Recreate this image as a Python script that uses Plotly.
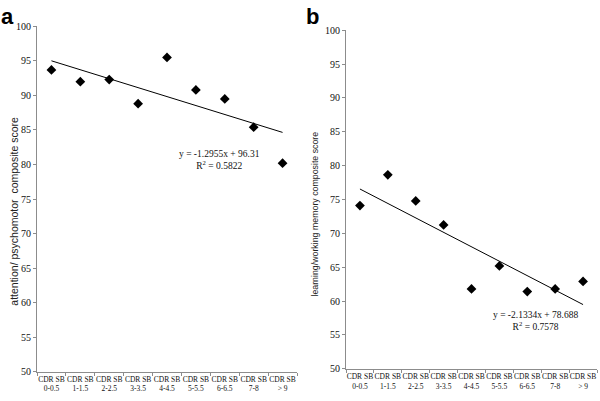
import plotly.graph_objects as go

categories = ["CDR SB<br>0-0.5", "CDR SB<br>1-1.5", "CDR SB<br>2-2.5", "CDR SB<br>3-3.5",
              "CDR SB<br>4-4.5", "CDR SB<br>5-5.5", "CDR SB<br>6-6.5", "CDR SB<br>7-8", "CDR SB<br>> 9"]
attention_scores = [93.7, 92.0, 92.3, 88.8, 95.5, 90.8, 89.5, 85.4, 80.2]
memory_scores = [74.1, 78.65, 74.8, 71.25, 61.8, 65.2, 61.4, 61.8, 62.9]

# trendline equations shown on the chart
a_slope, a_intercept, a_r2 = -1.2955, 96.31, "0.5822"
b_slope, b_intercept, b_r2 = -2.1334, 78.688, "0.7578"
a_eq = "y = -1.2955x + 96.31"
b_eq = "y = -2.1334x + 78.688"

yticks = [50, 55, 60, 65, 70, 75, 80, 85, 90, 95, 100]

n = len(categories)
a_trend = [a_slope * 1 + a_intercept, a_slope * n + a_intercept]
b_trend = [b_slope * 1 + b_intercept, b_slope * n + b_intercept]

fig = go.Figure()
marker = dict(symbol="diamond", size=7.5, color="black")

fig.add_trace(go.Scatter(x=[categories[0], categories[-1]], y=a_trend, mode="lines",
                         line=dict(color="black", width=1), xaxis="x", yaxis="y", showlegend=False))
fig.add_trace(go.Scatter(x=categories, y=attention_scores, mode="markers", marker=marker,
                         xaxis="x", yaxis="y", showlegend=False))
fig.add_trace(go.Scatter(x=[categories[0], categories[-1]], y=b_trend, mode="lines",
                         line=dict(color="black", width=1), xaxis="x2", yaxis="y2", showlegend=False))
fig.add_trace(go.Scatter(x=categories, y=memory_scores, mode="markers", marker=marker,
                         xaxis="x2", yaxis="y2", showlegend=False))

xtickfont = dict(family="Liberation Serif", size=7.5, color="#111111")
ytickfont = dict(family="Liberation Serif", size=10, color="#111111")
axcol = "#8c8c8c"
xcommon = dict(type="category", categoryorder="array", categoryarray=categories,
               tickson="boundaries", ticks="outside", ticklen=3, tickcolor=axcol,
               showline=True, linecolor=axcol, linewidth=1, showgrid=False,
               zeroline=False, tickangle=0, tickfont=xtickfont, range=[-0.5, n - 0.5])
ycommon = dict(range=[50, 100], tickvals=yticks, ticks="outside", ticklen=3, tickcolor=axcol,
               showline=True, linecolor=axcol, linewidth=1, showgrid=False, zeroline=False,
               tickfont=ytickfont)

fig.update_layout(
    width=600, height=401,
    margin=dict(l=0, r=0, t=0, b=0),
    paper_bgcolor="white", plot_bgcolor="white",
    xaxis=dict(domain=[37 / 600, 297 / 600], anchor="y", **xcommon),
    yaxis=dict(domain=[1 - 377 / 401, 1 - 21 / 401], anchor="x", **ycommon),
    xaxis2=dict(domain=[346 / 600, 597 / 600], anchor="y2", **xcommon),
    yaxis2=dict(domain=[1 - 374 / 401, 1 - 25 / 401], anchor="x2", **ycommon),
)

annfont = dict(family="Liberation Serif", size=9.5, color="#111111")
fig.add_annotation(x=5.83, y=80.6, xref="x", yref="y", text=a_eq + "<br>R<sup>2</sup> = " + a_r2,
                   showarrow=False, font=annfont, align="center")
fig.add_annotation(x=6.28, y=57.0, xref="x2", yref="y2", text=b_eq + "<br>R<sup>2</sup> = " + b_r2,
                   showarrow=False, font=annfont, align="center")

fig.add_annotation(x=6 / 600, y=1 - 212 / 401, xref="paper", yref="paper",
                   text="attention/ psychomotor&nbsp; composite score", textangle=-90,
                   showarrow=False, font=dict(family="Liberation Sans", size=10.5, color="#222222"))
fig.add_annotation(x=315 / 600, y=1 - 215 / 401, xref="paper", yref="paper",
                   text="learning/working memory composite score", textangle=-90,
                   showarrow=False, font=dict(family="Liberation Sans", size=8.8, color="#222222"))

fig.add_annotation(x=0, y=1, xref="paper", yref="paper", text="a",
                   showarrow=False, xanchor="left", yanchor="top", borderpad=0, yshift=3,
                   font=dict(family="Liberation Sans", size=22, color="black", weight="bold"))
fig.add_annotation(x=305 / 600, y=1, xref="paper", yref="paper", text="b",
                   showarrow=False, xanchor="left", yanchor="top", borderpad=0, yshift=3,
                   font=dict(family="Liberation Sans", size=22, color="black", weight="bold"))

fig.write_html("out.html", config={"displayModeBar": False},
               post_script="document.body.style.margin='0';")
